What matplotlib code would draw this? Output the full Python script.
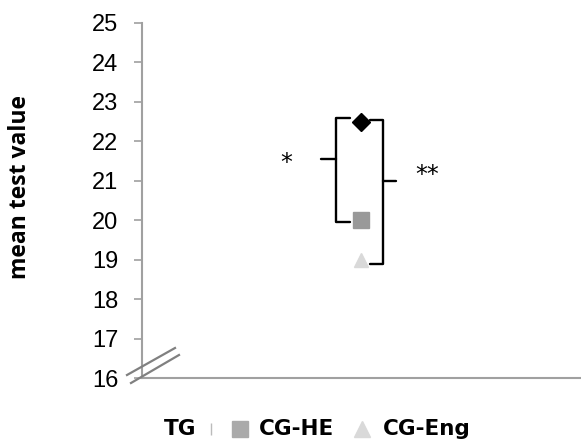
import matplotlib.pyplot as plt
from matplotlib.lines import Line2D

groups = ["TG", "CG-HE", "CG-Eng"]
means = [22.5, 20.0, 19.0]
yticks = list(range(16, 26))

W, H = 581, 444
fig = plt.figure(figsize=(5.81, 4.44), dpi=100)
ax = fig.add_axes([142 / W, 1 - 378 / H, 438 / W, 355 / H])

markers = ["D", "s", "^"]
colors = ["black", "#999999", "#d9d9d9"]
sizes = [9, 11, 10]
for g, m, c, s, v in zip(groups, markers, colors, sizes, means):
    ax.plot([0.5], [v], marker=m, color=c, markersize=s, linestyle="none", label=g, zorder=3)

ax.set_xlim(0, 1)
ax.set_ylim(16, 25)
ax.set_yticks(yticks)
ax.set_xticks([])
for side in ["top", "right"]:
    ax.spines[side].set_visible(False)
for side in ["left", "bottom"]:
    ax.spines[side].set_color("#a0a0a0")
    ax.spines[side].set_linewidth(1.5)
ax.tick_params(axis="y", length=6, width=1.2, color="#a0a0a0", pad=11,
               labelsize=17, labelfontfamily="Liberation Sans")
fig.text(20 / W, 1 - 187 / H, "mean test value", rotation=90, ha="center", va="center",
         fontsize=16.5, fontweight="bold", family=["Open Sans", "DejaVu Sans"])

# significance brackets
kw = dict(color="black", lw=1.7, solid_joinstyle="round", solid_capstyle="round", clip_on=False)
ax.plot([0.475, 0.443, 0.443, 0.475], [means[0] + 0.1, means[0] + 0.1, means[1] - 0.05, means[1] - 0.05], **kw)
ax.plot([0.443, 0.409], [21.55, 21.55], **kw)
ax.plot([0.521, 0.550, 0.550, 0.521], [means[0] + 0.05, means[0] + 0.05, means[2] - 0.1, means[2] - 0.1], **kw)
ax.plot([0.550, 0.580], [21.0, 21.0], **kw)
ax.text(0.329, 21.45, "*", fontsize=17, ha="center", va="center")
ax.text(0.650, 21.15, "**", fontsize=17, ha="center", va="center")

# axis break mark
fig.add_artist(Line2D([127 / W, 175 / W], [1 - 375 / H, 1 - 348 / H], color="#808080", lw=1.6))
fig.add_artist(Line2D([131 / W, 179 / W], [1 - 383 / H, 1 - 355 / H], color="#808080", lw=1.6))

# legend row, laid out as in the original
ly = 1 - 429 / H
tprops = dict(fontsize=15.5, fontweight="bold", family=["DejaVu Sans"], va="center", ha="left")
fig.text(164 / W, ly, groups[0], **tprops)
fig.add_artist(Line2D([211 / W], [ly], marker="|", color="#bbbbbb", markersize=8, linestyle="none"))
fig.add_artist(Line2D([240 / W], [ly], marker="s", color="#aaaaaa", markersize=11, linestyle="none"))
fig.text(259 / W, ly, groups[1], **tprops)
fig.add_artist(Line2D([362 / W], [ly], marker="^", color="#d9d9d9", markersize=11, linestyle="none"))
fig.text(383 / W, ly, groups[2], **tprops)

fig.savefig("out.png", dpi=100)
